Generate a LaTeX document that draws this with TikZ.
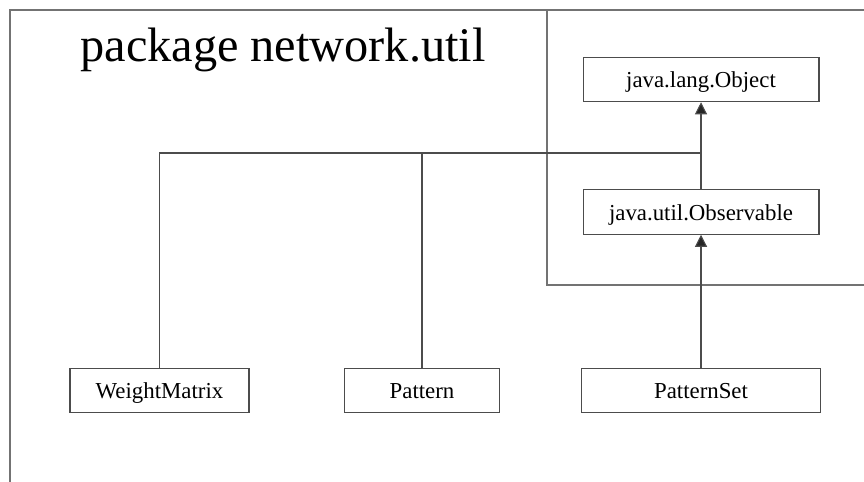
\documentclass[tikz,border=0pt]{standalone}
\usepackage{fontspec}
\setmainfont{Liberation Serif}
\usetikzlibrary{arrows.meta, positioning}

\begin{document}
\begin{tikzpicture}[
        x=0.02cm, y=-0.02cm,
        cls/.style={rectangle, draw=black!70, line width=0.6pt, minimum height=0.89cm, minimum width=#1, inner sep=2pt, text height=2.1ex, text depth=0ex, font=\fontsize{13}{15}\selectfont},
        cls/.default=4.72cm,
        frame/.style={draw=black!55, line width=0.8pt},
        link/.style={draw=black!70, line width=0.6pt},
        arrow/.style={link, -{Triangle[length=0.24cm, width=0.24cm, fill=black!85]}}
    ]
    \useasboundingbox (0,0) rectangle (864,482);

    % package frame and java.* area
    \draw[frame] (10,482) -- (10,10) -- (864,10);
    \draw[frame] (547,10) -- (547,285) -- (864,285);
    \node[font=\fontsize{27.5}{32}\selectfont] (title) at (283,50) {package network.util};

    % classes
    \node[cls] (object) at (701,79.5) {java.lang.Object};
    \node[cls] (observable) at (701,212) {java.util.Observable};
    \node[cls=3.58cm] (weight) at (159.5,390.5) {WeightMatrix};
    \node[cls=3.1cm] (pattern) at (422,390.5) {Pattern};
    \node[cls=4.78cm] (patternset) at (701,390.5) {PatternSet};

    \coordinate (join) at (701,153);

    \draw[arrow] (observable) -- (object);
    \draw[arrow] (patternset) -- (observable);
    \draw[link] (weight.north) |- (join);
    \draw[link] (pattern.north) -- (pattern.north |- join);
\end{tikzpicture}
\end{document}
